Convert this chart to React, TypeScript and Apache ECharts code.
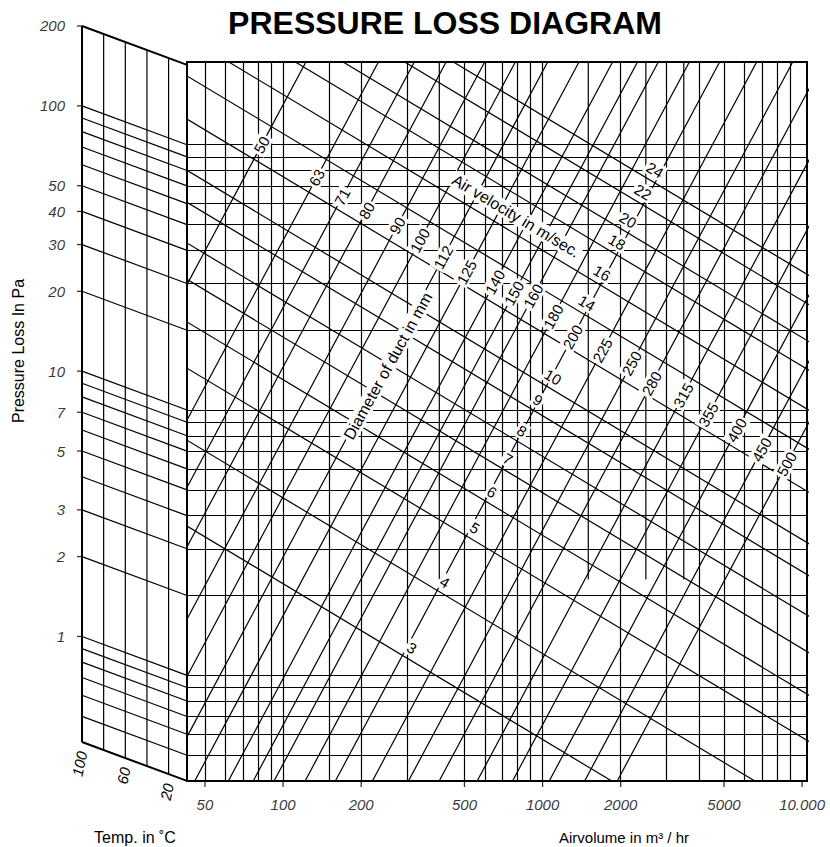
import { useEffect, useRef } from "react";
import * as echarts from "echarts";

// ---------------- data ----------------
const airVolumeGridLines = [50, 60, 70, 80, 90, 100, 150, 200, 300, 500, 600, 700, 800, 900, 1000, 2000, 3000, 4000, 5000, 6000, 7000, 8000, 9000];
const airVolumePartialLines = [400, 1500, 2500, 3500];
const partialLineLowEnd = 2.3;
const pressureGridLines = [100, 90, 80, 70, 60, 50, 40, 30, 20, 10, 9, 8, 7, 6, 5, 4, 3, 2, 1, 0.9, 0.8, 0.7, 0.6, 0.5];
const pressureTickLabels = [200, 100, 50, 40, 30, 20, 10, 7, 5, 3, 2, 1];
const airVolumeTickLabels = [50, 100, 200, 500, 1000, 2000, 5000, 10000];
const airVolumeTickText = ["50", "100", "200", "500", "1000", "2000", "5000", "10.000"];

const tempLines = [100, 80, 60, 40, 20];
const tempTickLabels = [100, 60, 20];
const tempPanelEdges = [100, 3];
const tempPanelPressures = [200, 100, 90, 80, 70, 60, 50, 40, 30, 20, 10, 9, 8, 7, 6, 5, 4, 3, 2, 1, 0.9, 0.8, 0.7, 0.6, 0.5, 0.4];
const tempLossRatio = 0.7135;

const ductDiameters = [50, 63, 71, 80, 90, 100, 112, 125, 140, 150, 160, 180, 200, 225, 250, 280, 315, 355, 400, 450, 500];
const ductFlowAt1Pa = [6.68, 12.71, 17.48, 23.17, 32.64, 42.84, 57.04, 75.35, 101.5, 126.6, 152.3, 200.6, 262.4, 364.5, 501.9, 659.2, 923.5, 1264, 1750, 2396, 3200];
const ductLabelFlow = [82.7, 134.7, 169.0, 210.0, 275.6, 337.0, 414.3, 510.0, 655.5, 775.6, 920.8, 1100, 1306, 1702, 2205, 2633, 3486, 4351, 5598, 6988, 8724];
const ductLossExponent = 1.83;

const velocities = [3, 4, 5, 6, 7, 8, 9, 10, 12, 14, 16, 18, 20, 22, 24];
const velocityLossAt1000 = [0.5734, 1.208, 2.256, 3.37, 4.878, 6.689, 9.515, 12.56, 19.6, 28.5, 39.99, 56.56, 72.53, 99.98, 128.8];
const velocityExponent = -0.587;
const velocityLabelValues = [3, 4, 5, 6, 7, 8, 9, 10, 14, 16, 18, 20, 22, 24];
const velocityLabelFlow = [313.7, 420.2, 548.4, 638.5, 735.8, 833.3, 959.9, 1097, 1482, 1695, 1935, 2133, 2437, 2711];
const velocityLabelLoss = [1.268, 2.247, 3.592, 4.909, 6.538, 8.335, 10.91, 13.32, 25.32, 32.85, 42.98, 52.03, 66.34, 80.29];

const noteTexts = ["Diameter of duct in mm", "Air velocity in m/sec."];
const noteFlow = [253.7, 789.8];
const noteLoss = [14.65, 53.9];
const noteRotate = [61, -31];

// ---------------- chart ----------------
const FONT = "'Liberation Sans', Arial, Helvetica, sans-serif";
const LW = 1.2;

let measureCtx: CanvasRenderingContext2D | null = null;
function textWidth(text: string, font: string) {
  if (!measureCtx) measureCtx = document.createElement("canvas").getContext("2d");
  if (!measureCtx) return text.length * 8;
  measureCtx.font = font;
  return measureCtx.measureText(text).width;
}

function straight(name: string, data: number[][], xi: number, yi: number, width = LW, clip = true) {
  return {
    type: "line",
    name,
    xAxisIndex: xi,
    yAxisIndex: yi,
    data,
    symbol: "none",
    showSymbol: false,
    silent: true,
    clip,
    z: 3,
    lineStyle: { color: "#000", width },
    emphasis: { disabled: true },
  };
}

// boxed text labels placed in data coordinates through the axes
function boxedLabels(name: string, points: number[][], texts: string[], rotations: number[], fontSize: number) {
  const font = `${fontSize}px ${FONT}`;
  return {
    type: "custom",
    name,
    xAxisIndex: 0,
    yAxisIndex: 0,
    data: points.map((p, i) => [p[0], p[1], i]),
    silent: true,
    clip: false,
    z: 20,
    renderItem: (_params: any, api: any) => {
      const i = api.value(2);
      const pt = api.coord([api.value(0), api.value(1)]);
      const w = textWidth(texts[i], font) + 4;
      const h = fontSize + 1;
      return {
        type: "group",
        x: pt[0],
        y: pt[1],
        rotation: (rotations[i] * Math.PI) / 180,
        children: [
          { type: "rect", shape: { x: -w / 2, y: -h / 2, width: w, height: h }, style: { fill: "#fff" } },
          {
            type: "text",
            style: { text: texts[i], x: 0, y: 0, fill: "#000", font, align: "center", verticalAlign: "middle" },
          },
        ],
      };
    },
  };
}

function buildOption() {
  const series: any[] = [];

  // main grid lines (horizontal and vertical)
  series.push({
    type: "line",
    xAxisIndex: 0,
    yAxisIndex: 0,
    data: [[1000, 1]],
    symbol: "none",
    showSymbol: false,
    silent: true,
    lineStyle: { opacity: 0 },
    z: 2,
    markLine: {
      silent: true,
      symbol: ["none", "none"],
      label: { show: false },
      emphasis: { disabled: true },
      lineStyle: { color: "#000", width: LW, type: "solid" },
      data: [
        ...pressureGridLines.map((v) => ({ yAxis: v })),
        ...airVolumeGridLines.map((v) => ({ xAxis: v })),
      ],
    },
  });
  airVolumePartialLines.forEach((q) => {
    series.push(straight("pv" + q, [[q, partialLineLowEnd], [q, 205]], 0, 0));
  });

  // duct diameter lines
  ductDiameters.forEach((d, i) => {
    const q1 = ductFlowAt1Pa[i];
    const qAt = (p: number) => q1 * Math.pow(p, 1 / ductLossExponent);
    series.push(straight("d" + d, [[qAt(0.3), 0.3], [qAt(260), 260]], 0, 0));
  });

  // air velocity lines
  velocities.forEach((v, i) => {
    const p1000 = velocityLossAt1000[i];
    const pAt = (q: number) => p1000 * Math.pow(q / 1000, velocityExponent);
    series.push(straight("v" + v, [[30, pAt(30)], [12000, pAt(12000)]], 0, 0));
  });

  // temperature panel
  const [tHot, tCold] = tempPanelEdges;
  const factorAt = (t: number) => Math.pow(tempLossRatio, (tHot - t) / (tHot - tCold));
  tempPanelPressures.forEach((p) => {
    const w = p === 200 || p === 0.4 ? 2 : LW;
    series.push(straight("tp" + p, [[tHot, p], [tCold, p * tempLossRatio]], 1, 1, w, false));
  });
  tempLines.forEach((t) => {
    const k = factorAt(t);
    series.push(straight("T" + t, [[t, 200 * k], [t, 0.4 * k]], 1, 1, t === 100 ? 2 : LW, false));
  });

  // pressure tick labels (left)
  series.push({
    type: "scatter",
    xAxisIndex: 1,
    yAxisIndex: 1,
    data: pressureTickLabels.map((p) => [tHot, p]),
    symbol: "rect",
    symbolSize: [5, 1.3],
    symbolOffset: [-2.5, 0],
    itemStyle: { color: "#000" },
    silent: true,
    clip: false,
    z: 6,
    label: {
      show: true,
      position: "left",
      distance: 12,
      formatter: (p: any) => String(p.value[1]),
      fontStyle: "italic",
      fontSize: 15,
      fontFamily: FONT,
      color: "#000",
    },
  });

  // temperature tick labels
  series.push({
    type: "scatter",
    xAxisIndex: 1,
    yAxisIndex: 1,
    data: tempTickLabels.map((t) => [t, 0.4 * factorAt(t)]),
    symbol: "rect",
    symbolSize: 1,
    itemStyle: { color: "#fff", opacity: 0 },
    silent: true,
    clip: false,
    z: 6,
    label: {
      show: true,
      position: "bottom",
      distance: 9,
      rotate: 78,
      align: "right",
      verticalAlign: "middle",
      formatter: (p: any) => String(p.value[0]),
      fontStyle: "italic",
      fontSize: 15,
      fontFamily: FONT,
      color: "#000",
      opacity: 1,
    },
  });

  // airvolume tick labels
  series.push({
    type: "scatter",
    xAxisIndex: 0,
    yAxisIndex: 0,
    data: airVolumeTickLabels.map((q) => [q, 0.4]),
    symbol: "rect",
    symbolSize: [1.3, 6],
    symbolOffset: [0, 3],
    itemStyle: { color: "#000" },
    silent: true,
    clip: false,
    z: 6,
    label: {
      show: true,
      position: "bottom",
      distance: 10,
      formatter: (p: any) => airVolumeTickText[p.dataIndex],
      fontStyle: "italic",
      fontSize: 15,
      fontFamily: FONT,
      color: "#000",
    },
  });

  // duct diameter labels (on their lines)
  series.push(
    boxedLabels(
      "ductLabels",
      ductLabelFlow.map((q, i) => [q, Math.pow(q / ductFlowAt1Pa[i], ductLossExponent)]),
      ductDiameters.map(String),
      ductDiameters.map(() => 61),
      15
    )
  );

  // velocity labels (just above their lines)
  series.push(
    boxedLabels(
      "velocityLabels",
      velocityLabelFlow.map((q, i) => [q, velocityLabelLoss[i]]),
      velocityLabelValues.map(String),
      velocityLabelValues.map(() => -31),
      15
    )
  );

  // running notes
  series.push(boxedLabels("notes", noteFlow.map((q, i) => [q, noteLoss[i]]), noteTexts, noteRotate, 16));

  return {
    animation: false,
    backgroundColor: "#fff",
    textStyle: { fontFamily: FONT },
    grid: [
      { left: 187, top: 62, width: 620, height: 719, show: true, borderColor: "#000", borderWidth: 2, backgroundColor: "transparent", z: 4 },
      { left: 82, top: 24, width: 105, height: 757, show: false },
    ],
    xAxis: [
      { type: "log", gridIndex: 0, min: 42.64, max: 10445, logBase: 10, show: false, splitLine: { show: false } },
      { type: "value", gridIndex: 1, min: tempPanelEdges[1], max: tempPanelEdges[0], inverse: true, show: false, splitLine: { show: false } },
    ],
    yAxis: [
      { type: "log", gridIndex: 0, min: 0.4, max: 205, logBase: 10, show: false, splitLine: { show: false } },
      { type: "log", gridIndex: 1, min: 0.2852, max: 203.5, logBase: 10, show: false, splitLine: { show: false } },
    ],
    graphic: [
      {
        type: "text",
        x: 445,
        y: 23,
        style: { text: "PRESSURE LOSS DIAGRAM", font: `bold 32px ${FONT}`, fill: "#000", textAlign: "center", textVerticalAlign: "middle" },
      },
      {
        type: "text",
        x: 18,
        y: 351,
        rotation: Math.PI / 2,
        style: { text: "Pressure Loss In Pa", font: `16px ${FONT}`, fill: "#000", textAlign: "center", textVerticalAlign: "middle" },
      },
      {
        type: "text",
        x: 135,
        y: 837,
        style: { text: "Temp. in ˚C", font: `16px ${FONT}`, fill: "#000", textAlign: "center", textVerticalAlign: "middle" },
      },
      {
        type: "text",
        x: 624,
        y: 837,
        style: { text: "Airvolume in m³ / hr", font: `15px ${FONT}`, fill: "#000", textAlign: "center", textVerticalAlign: "middle" },
      },
    ],
    series,
  };
}

export default function App() {
  const ref = useRef<HTMLDivElement>(null);
  useEffect(() => {
    const chart = echarts.init(ref.current!, undefined, { renderer: "svg", width: 830, height: 847 });
    chart.setOption(buildOption() as any);
    return () => chart.dispose();
  }, []);
  return (
    <div
      ref={ref}
      style={{ position: "fixed", left: 0, top: 0, width: 830, height: 847, background: "#fff" }}
    />
  );
}
